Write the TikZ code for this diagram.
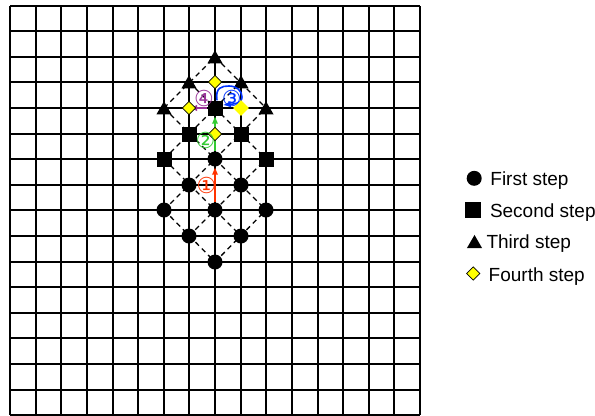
\documentclass[tikz,border=0pt]{standalone}
\usepackage{fontspec}
\setmainfont{Liberation Sans}
\newfontfamily\symfont{DejaVu Sans}
\usetikzlibrary{shapes.geometric,arrows.meta}

\definecolor{cred}{RGB}{255,51,0}
\definecolor{cgreen}{RGB}{51,204,51}
\definecolor{cblue}{RGB}{0,51,255}
\definecolor{cpurple}{RGB}{153,51,153}
\definecolor{cyell}{RGB}{255,255,0}

\tikzset{
 gridline/.style={line width=2bp, black},
 dashline/.style={line width=1.3bp, dash pattern=on 5bp off 4bp},
 circmark/.style={circle, fill=black, minimum size=15bp, inner sep=0pt},
 sqmark/.style={rectangle, fill=black, minimum size=15bp, inner sep=0pt},
 trimark/.style={regular polygon, regular polygon sides=3, fill=black, minimum size=17.5bp, inner sep=0pt},
 diamark/.style={diamond, fill=cyell, draw=black, line width=0.7bp, minimum size=13.5bp, inner sep=0pt, aspect=1},
 bigdiamark/.style={diamond, fill=cyell, minimum size=16bp, inner sep=0pt, aspect=1},
 arr/.style={line width=1.6bp, -{Latex[length=8bp,width=6.5bp]}},
 numlabel/.style={font=\symfont\fontsize{22bp}{22bp}\selectfont, inner sep=0pt},
 legtext/.style={font=\fontsize{19bp}{19bp}\selectfont, anchor=base west, inner sep=0pt},
}

\begin{document}
\begin{tikzpicture}[x=1bp,y=-1bp]
\useasboundingbox (0,0) rectangle (595,415);
\fill[white] (0,0) rectangle (595,415);

% grid coordinates (snapped to whole pixels)
\foreach \i in {0,...,16} {
  \foreach \j in {0,...,16} {
    \pgfmathsetmacro\xx{round(10+25.625*\i)}
    \pgfmathsetmacro\yy{round(5.5+25.6*\j)}
    \coordinate (g-\i-\j) at (\xx,\yy);
  }
}
% grid
\foreach \i in {0,...,16} {
  \draw[gridline] (g-\i-0) -- (g-\i-16);
  \draw[gridline] (g-0-\i) -- (g-16-\i);
}

% dashed lattice
\draw[dashline] (g-6-4) -- (g-8-2);
\draw[dashline] (g-6-6) -- (g-9-3);
\draw[dashline] (g-6-8) -- (g-10-4);
\draw[dashline] (g-7-9) -- (g-10-6);
\draw[dashline] (g-8-10) -- (g-10-8);
\draw[dashline] (g-6-8) -- (g-8-10);
\draw[dashline] (g-6-6) -- (g-9-9);
\draw[dashline] (g-6-4) -- (g-10-8);
\draw[dashline] (g-7-3) -- (g-10-6);
\draw[dashline] (g-8-2) -- (g-10-4);

% first step (circles)
\node[circmark] (c86) at (g-8-6) {};
\node[circmark] (c77) at (g-7-7) {};
\node[circmark] (c97) at (g-9-7) {};
\node[circmark] (c68) at (g-6-8) {};
\node[circmark] (c88) at (g-8-8) {};
\node[circmark] (c108) at (g-10-8) {};
\node[circmark] (c79) at (g-7-9) {};
\node[circmark] (c99) at (g-9-9) {};
\node[circmark] (c810) at (g-8-10) {};

% second step (squares)
\node[sqmark] (s84) at (g-8-4) {};
\node[sqmark] (s75) at (g-7-5) {};
\node[sqmark] (s95) at (g-9-5) {};
\node[sqmark] (s66) at (g-6-6) {};
\node[sqmark] (s106) at (g-10-6) {};

% third step (triangles)
\node[trimark, yshift=-2bp] (t82) at (g-8-2) {};
\node[trimark, yshift=-2bp] (t73) at (g-7-3) {};
\node[trimark, yshift=-2bp] (t93) at (g-9-3) {};
\node[trimark, yshift=-2bp] (t64) at (g-6-4) {};
\node[trimark, yshift=-2bp] (t104) at (g-10-4) {};

% arrows
\draw[arr, cred] (c88) -- (c86);
\draw[arr, cgreen] (c86) -- (s84);
\draw[arr, cpurple] (s84) -- (g-7-4);
\draw[arr, cblue] ([xshift=2bp]s84.north) .. controls +(-2,-13) and +(-7,0) .. (229,86)
   .. controls +(8,0) and +(0,-6) .. (242,97)
   .. controls +(0,7) and +(10,-1) .. ([yshift=3bp]s84.east);

% fourth step (diamonds)
\node[diamark] (d83) at (g-8-3) {};
\node[diamark] (d74) at (g-7-4) {};
\node[bigdiamark] (d94) at (g-9-4) {};
\node[diamark] (d85) at (g-8-5) {};

% step labels
\node[numlabel, text=cred] (n1) at (206.5,185) {①};
\node[numlabel, text=cgreen] (n2) at (205.5,140) {②};
\node[numlabel, text=cblue] (n3) at (231.7,98.5) {③};
\node[numlabel, text=cpurple] (n4) at (204,98.5) {④};

% legend
\node[circmark] (lc) at (474.2,178.3) {};
\node[legtext] (lt1) at (490.2,185) {First step};
\node[sqmark, minimum size=16bp] (ls) at (473.3,210) {};
\node[legtext] (lt2) at (489.8,217) {Second step};
\node[trimark] (lt) at (474.5,243.7) {};
\node[legtext] (lt3) at (486.3,248.5) {Third step};
\node[diamark] (ld) at (473.3,273.5) {};
\node[legtext] (lt4) at (488.5,281) {Fourth step};
\end{tikzpicture}
\end{document}
